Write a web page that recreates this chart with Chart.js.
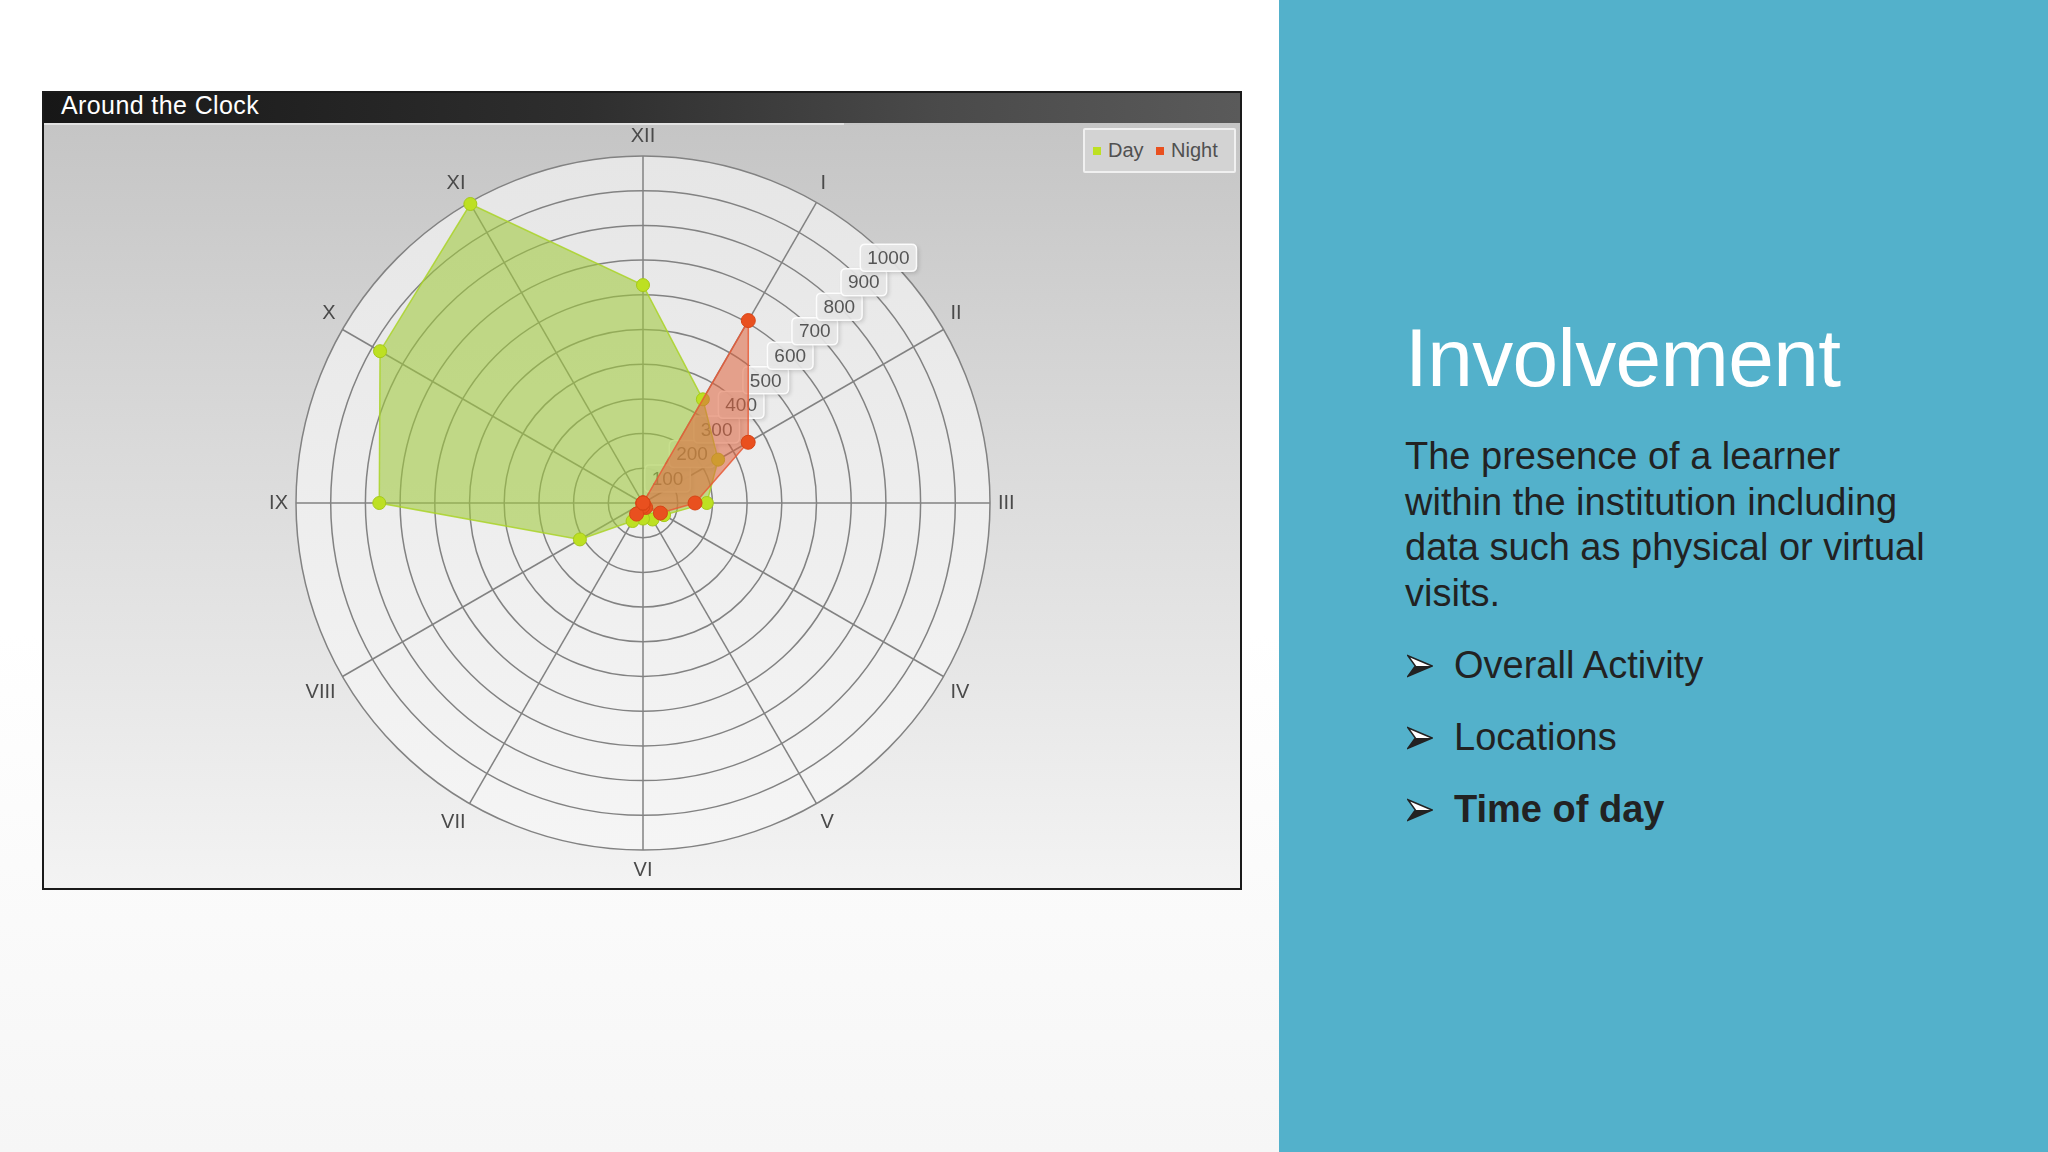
<!DOCTYPE html>
<html>
<head>
<meta charset="utf-8">
<script src="https://cdn.jsdelivr.net/npm/chart.js@4.4.1/dist/chart.umd.min.js"></script>
<style>
html,body{margin:0;padding:0;width:2048px;height:1152px;overflow:hidden;font-family:"Liberation Sans",Arial,sans-serif;}
#slide{position:absolute;left:0;top:0;width:2048px;height:1152px;background:linear-gradient(#ffffff 0%,#ffffff 55%,#f6f6f6 100%);}
#blue{position:absolute;left:1279px;top:0;width:769px;height:1152px;background:#53b1cb;}
#panel{position:absolute;left:42px;top:91px;width:1200px;height:799px;box-sizing:border-box;border:2px solid #1a1a1a;background:linear-gradient(#c3c3c3 0%,#dadada 45%,#f3f3f3 100%);}
#titlebar{position:absolute;left:0;top:0;width:1196px;height:30px;background:linear-gradient(90deg,#171717 0%,#2e2e2e 45%,#4a4a4a 75%,#5a5a5a 100%);}
#titlebar span{position:absolute;left:17px;top:-1px;font-size:25px;line-height:26px;color:#fff;letter-spacing:0.4px;}
#strip{position:absolute;left:0;top:30px;width:800px;height:2px;background:#e2e2e2;}
#chartWrap{position:absolute;left:43px;top:123px;width:1198px;height:766px;}
#legend{position:absolute;left:1083px;top:128px;width:153px;height:45px;box-sizing:border-box;border:2px solid #f0f0f0;background:#d3d3d3;border-radius:2px;}
.lg{position:absolute;top:0;height:41px;line-height:41px;font-size:20px;color:#505050;}
#title{position:absolute;left:1405px;top:316px;font-size:82px;line-height:84px;color:#ffffff;white-space:nowrap;letter-spacing:-0.6px;}
#body{position:absolute;left:1405px;top:434px;font-size:38px;line-height:45.7px;color:#222;white-space:nowrap;}
.bul{position:absolute;left:1405px;font-size:38px;line-height:40px;color:#222;white-space:nowrap;}
.bul svg{position:absolute;left:2px;top:8px;}
.bul span{position:absolute;left:49px;top:-1px;}
</style>
</head>
<body>
<div id="slide"></div>
<div id="blue"></div>
<div id="panel">
  <div id="titlebar"><span>Around the Clock</span></div>
  <div id="strip"></div>
</div>
<div id="chartWrap"><canvas id="c" width="1198" height="766"></canvas></div>
<div id="legend"></div>

<div id="title">Involvement</div>
<div id="body">The presence of a learner<br>within the institution including<br>data such as physical or virtual<br>visits.</div>
<div class="bul" style="top:646px"><svg width="26" height="24" viewBox="0 0 28 24"><polygon points="1,1 27,12 1,23 9,12" fill="#fff" stroke="#222" stroke-width="1.6"/><polygon points="9,12 27,12 1,23" fill="#222"/></svg><span>Overall Activity</span></div>
<div class="bul" style="top:718px"><svg width="26" height="24" viewBox="0 0 28 24"><polygon points="1,1 27,12 1,23 9,12" fill="#fff" stroke="#222" stroke-width="1.6"/><polygon points="9,12 27,12 1,23" fill="#222"/></svg><span>Locations</span></div>
<div class="bul" style="top:790px"><svg width="26" height="24" viewBox="0 0 28 24"><polygon points="1,1 27,12 1,23 9,12" fill="#fff" stroke="#222" stroke-width="1.6"/><polygon points="9,12 27,12 1,23" fill="#222"/></svg><span style="font-weight:bold">Time of day</span></div>

<script>
// ---- data ----
const hours = ['XII','I','II','III','IV','V','VI','VII','VIII','IX','X','XI'];
const dayValues = [628, 345, 250, 184, 70, 55, 45, 60, 210, 760, 875, 995];
const nightValues = [0, 607, 350, 150, 58, 15, 10, 37, 0, 0, 0, 0];
const tickValues = [100, 200, 300, 400, 500, 600, 700, 800, 900, 1000];
const seriesNames = ['Day', 'Night'];

const FONT = '"Liberation Sans", Arial, sans-serif';

const diskPlugin = {
  id: 'disk',
  beforeDraw(chart) {
    const s = chart.scales.r, ctx = chart.ctx;
    const r = s.drawingArea;
    ctx.save();
    const g = ctx.createLinearGradient(0, s.yCenter - r, 0, s.yCenter + r);
    g.addColorStop(0, '#e6e6e6');
    g.addColorStop(1, '#f5f5f5');
    ctx.beginPath();
    ctx.arc(s.xCenter, s.yCenter, r, 0, Math.PI * 2);
    ctx.fillStyle = g;
    ctx.fill();
    ctx.restore();
  }
};

function rr(ctx, x, y, w, h, rad) {
  ctx.beginPath();
  ctx.moveTo(x + rad, y);
  ctx.lineTo(x + w - rad, y);
  ctx.quadraticCurveTo(x + w, y, x + w, y + rad);
  ctx.lineTo(x + w, y + h - rad);
  ctx.quadraticCurveTo(x + w, y + h, x + w - rad, y + h);
  ctx.lineTo(x + rad, y + h);
  ctx.quadraticCurveTo(x, y + h, x, y + h - rad);
  ctx.lineTo(x, y + rad);
  ctx.quadraticCurveTo(x, y, x + rad, y);
  ctx.closePath();
}

const tickPlugin = {
  id: 'diagTicks',
  beforeDatasetsDraw(chart) {
    const s = chart.scales.r, ctx = chart.ctx;
    ctx.save();
    ctx.font = '19px ' + FONT;
    ctx.textAlign = 'center';
    ctx.textBaseline = 'middle';
    const a = Math.PI / 4;
    tickValues.forEach(v => {
      const d = s.getDistanceFromCenterForValue(v);
      const x = s.xCenter + d * Math.sin(a);
      const y = s.yCenter - d * Math.cos(a);
      const label = String(v);
      const w = ctx.measureText(label).width + 14, h = 27;
      ctx.save();
      ctx.shadowColor = 'rgba(0,0,0,0.18)';
      ctx.shadowBlur = 4;
      ctx.shadowOffsetX = 2;
      ctx.shadowOffsetY = 2;
      rr(ctx, x - w / 2, y - h / 2, w, h, 5);
      ctx.fillStyle = 'rgba(232,232,232,0.92)';
      ctx.fill();
      ctx.restore();
      rr(ctx, x - w / 2, y - h / 2, w, h, 5);
      ctx.strokeStyle = 'rgba(255,255,255,0.9)';
      ctx.lineWidth = 1.5;
      ctx.stroke();
      ctx.fillStyle = '#555555';
      ctx.fillText(label, x, y + 1);
    });
    ctx.restore();
  }
};

const chart = new Chart(document.getElementById('c'), {
  type: 'radar',
  data: {
    labels: hours,
    datasets: [
      {
        label: seriesNames[0],
        data: dayValues,
        order: 1,
        fill: true,
        backgroundColor: 'rgba(161,201,60,0.58)',
        borderColor: 'rgba(170,212,40,0.85)',
        borderWidth: 1.5,
        pointRadius: 6.5,
        pointBackgroundColor: '#bde022',
        pointBorderColor: '#a5c91a',
        pointBorderWidth: 1
      },
      {
        label: seriesNames[1],
        data: nightValues,
        order: 0,
        fill: true,
        backgroundColor: 'rgba(222,98,60,0.55)',
        borderColor: 'rgba(232,90,55,0.85)',
        borderWidth: 1.5,
        pointRadius: 7,
        pointBackgroundColor: '#e9501f',
        pointBorderColor: '#d84415',
        pointBorderWidth: 1
      }
    ]
  },
  options: {
    responsive: false,
    animation: false,
    devicePixelRatio: 1,
    layout: { padding: { left: 2, right: 0, top: 1, bottom: 7 } },
    plugins: { legend: { display: false }, tooltip: { enabled: false }, title: { display: false } },
    elements: { line: { tension: 0 } },
    scales: {
      r: {
        min: 0,
        max: 1000,
        startAngle: 0,
        ticks: { stepSize: 100, display: false },
        grid: { circular: true, color: '#828282', lineWidth: 1.5 },
        angleLines: { color: '#828282', lineWidth: 1.5 },
        pointLabels: { font: { size: 20, family: FONT }, color: '#4a4a4a', padding: 8 }
      }
    }
  },
  plugins: [diskPlugin, tickPlugin]
});

// HTML legend built from the chart's datasets
const lg = document.getElementById('legend');
const pos = [[8, 23], [71, 86]];
chart.data.datasets.forEach((ds, i) => {
  const m = document.createElement('i');
  m.style.position = 'absolute';
  m.style.left = pos[i][0] + 'px';
  m.style.top = '17px';
  m.style.width = '8px';
  m.style.height = '8px';
  m.style.background = ds.pointBackgroundColor;
  lg.appendChild(m);
  const t = document.createElement('div');
  t.className = 'lg';
  t.style.left = pos[i][1] + 'px';
  t.textContent = ds.label;
  lg.appendChild(t);
});
</script>
</body>
</html>
